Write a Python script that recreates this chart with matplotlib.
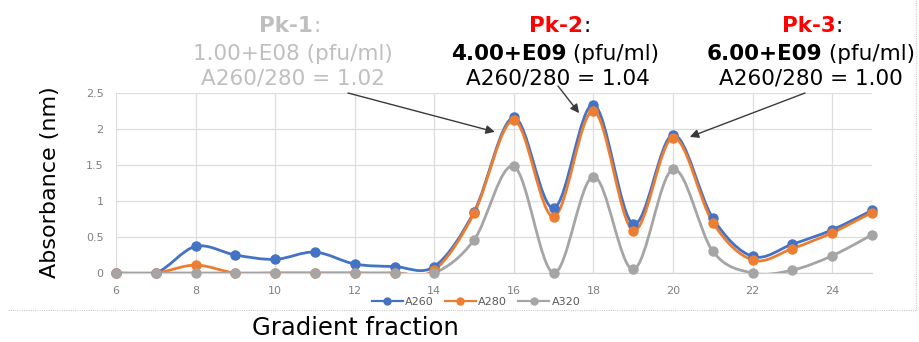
import matplotlib
matplotlib.use("Agg")
import matplotlib.pyplot as plt
import numpy as np
from matplotlib.path import Path
from matplotlib.patches import PathPatch
from matplotlib.lines import Line2D

# ---- data ----
fractions = [6, 7, 8, 9, 10, 11, 12, 13, 14, 15, 16, 17, 18, 19, 20, 21, 22, 23, 24, 25]
a260 = [0, 0, 0.37, 0.25, 0.19, 0.29, 0.125, 0.09, 0.09, 0.85, 2.16, 0.90, 2.34, 0.68, 1.92, 0.76, 0.23, 0.40, 0.60, 0.87]
a280 = [0, 0, 0.11, 0, 0, 0, 0, 0, 0.04, 0.83, 2.12, 0.78, 2.25, 0.59, 1.88, 0.70, 0.18, 0.34, 0.56, 0.84]
a320 = [0, 0, 0, 0, 0, 0, 0, 0, 0, 0.46, 1.48, 0, 1.34, 0.05, 1.44, 0.30, 0, 0.04, 0.24, 0.53]
series_names = ["A260", "A280", "A320"]
series_colors = ["#4472C4", "#ED7D31", "#A5A5A5"]
x_ticks = [6, 8, 10, 12, 14, 16, 18, 20, 22, 24]
y_ticks = [0, 0.5, 1, 1.5, 2, 2.5]
y_tick_labels = ["0", "0.5", "1", "1.5", "2", "2.5"]

W, H = 919, 342
fig = plt.figure(figsize=(W / 100, H / 100), dpi=100)
ax = fig.add_axes([116 / W, 69 / H, (872 - 116) / W, (273 - 93) / H])
ax.set_xlim(6, 25)
ax.set_ylim(0, 2.5)
ax.set_xticks(x_ticks)
ax.set_yticks(y_ticks)
ax.set_yticklabels(y_tick_labels)
ax.tick_params(length=0, labelsize=8, labelcolor="#808080")
ax.tick_params(axis="y", pad=9)
ax.tick_params(axis="x", pad=9)
ax.grid(True, color="#DDDDDD", lw=0.9)
ax.set_axisbelow(True)
for s in ["top", "right", "left"]:
    ax.spines[s].set_visible(False)
ax.spines["bottom"].set_color("#D0D0D0")


def smooth_path(xs, ys):
    P = np.column_stack([xs, ys]).astype(float)
    n = len(P)
    verts = [P[0]]
    codes = [Path.MOVETO]
    for i in range(n - 1):
        p_prev = P[i - 1] if i > 0 else P[i]
        p_next2 = P[i + 2] if i + 2 < n else P[i + 1]
        c1 = P[i] + (P[i + 1] - p_prev) / 6.0
        c2 = P[i + 1] - (p_next2 - P[i]) / 6.0
        verts += [c1, c2, P[i + 1]]
        codes += [Path.CURVE4] * 3
    return Path(verts, codes)


handles = []
for ys, name, col in zip([a260, a280, a320], series_names, series_colors):
    patch = PathPatch(smooth_path(fractions, ys), fill=False, edgecolor=col, lw=2.0,
                      capstyle="round", joinstyle="round", zorder=3)
    ax.add_patch(patch)
    ax.plot(fractions, ys, linestyle="none", marker="o", markersize=6.5, color=col, zorder=4,
            clip_on=False)
    handles.append(Line2D([], [], color=col, lw=1.6, marker="o", markersize=5, label=name))

fig.legend(handles=handles, loc="center", bbox_to_anchor=(476 / W, 1 - 302 / H), ncol=3,
           frameon=False, fontsize=8, labelcolor="#595959", handlelength=2.8,
           handletextpad=0.2, columnspacing=1.0, borderpad=0)

# axis labels
fig.text(50 / W, 1 - 182 / H, "Absorbance (nm)", rotation=90, ha="center", va="center",
         fontsize=16, color="black")
fig.text(355 / W, 1 - 328 / H, "Gradient fraction", ha="center", va="center",
         fontsize=17.5, color="black")

# mixed-style annotation text
renderer = fig.canvas.get_renderer()


def mixed(xc, ytop, parts, size=15.5):
    texts = []
    for s, col, wt in parts:
        t = fig.text(0, 0, s, color=col, fontweight=wt, fontsize=size, ha="left",
                     va="center", transform=None)
        texts.append(t)
    widths = [t.get_window_extent(renderer).width for t in texts]
    total = sum(widths)
    x = xc - total / 2
    for t, w in zip(texts, widths):
        t.set_position((x, H - ytop))
        x += w


g = "#BFBFBF"
mixed(290, 26, [("Pk-1", g, "bold"), (":", g, "normal")])
mixed(293, 54, [("1.00+E08 (pfu/ml)", g, "normal")])
mixed(293, 78, [("A260/280 = 1.02", g, "normal")])

mixed(560, 26, [("Pk-2", "#FF0000", "bold"), (":", "black", "normal")])
mixed(555, 54, [("4.00+E09", "black", "bold"), (" (pfu/ml)", "black", "normal")])
mixed(558, 78, [("A260/280 = 1.04", "black", "normal")])

mixed(812, 26, [("Pk-3", "#FF0000", "bold"), (":", "black", "normal")])
mixed(811, 54, [("6.00+E09", "black", "bold"), (" (pfu/ml)", "black", "normal")])
mixed(811, 78, [("A260/280 = 1.00", "black", "normal")])

# arrows
arrow_props = dict(arrowstyle="-|>", color="#3A3A3A", lw=1.0, mutation_scale=13,
                   shrinkA=0, shrinkB=0)
for start, head in [((348, 93), (15.52, 1.96)), ((558, 86), (17.64, 2.22)),
                    ((805, 93), (20.42, 1.89))]:
    ax.annotate("", xy=head, xycoords="data", xytext=(start[0], H - start[1]),
                textcoords="figure pixels", arrowprops=arrow_props, annotation_clip=False)

# chart border (dotted)
fig.add_artist(Line2D([8 / W, 916 / W], [1 - 310 / H, 1 - 310 / H], color="#CCCCCC",
                      lw=0.8, linestyle=(0, (1, 1)), transform=fig.transFigure))
fig.add_artist(Line2D([916 / W, 916 / W], [1 - 310 / H, 1.0], color="#CCCCCC",
                      lw=0.8, linestyle=(0, (1, 1)), transform=fig.transFigure))

fig.savefig("out.png", dpi=100)
